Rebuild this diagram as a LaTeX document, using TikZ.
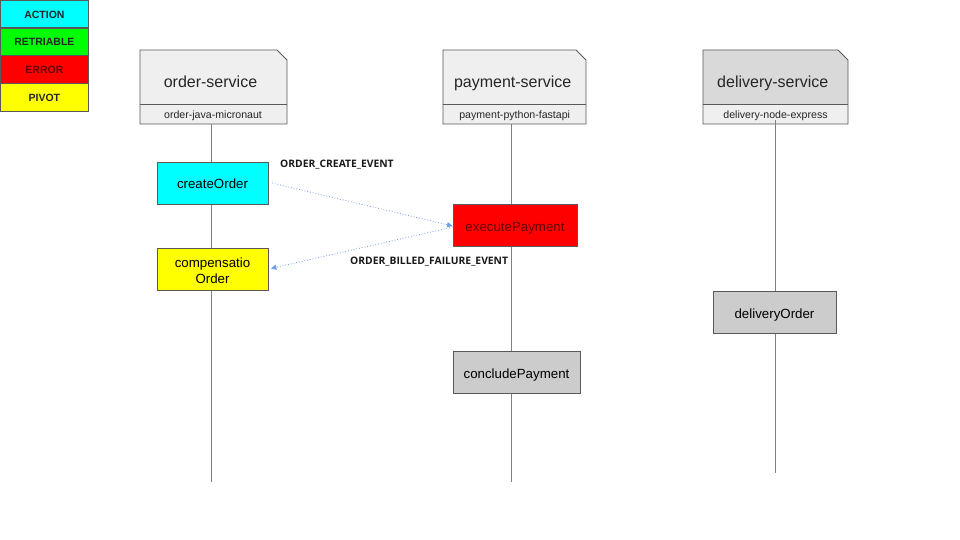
\documentclass[tikz,border=0pt]{standalone}
\usepackage{fontspec}
\setmainfont{Liberation Sans}
\newfontfamily\evfont{Open Sans}
\usetikzlibrary{arrows.meta}
\definecolor{bord}{HTML}{595959}
\definecolor{hdrlight}{HTML}{EFEFEF}
\definecolor{hdrdark}{HTML}{D9D9D9}
\definecolor{actgray}{HTML}{CCCCCC}
\definecolor{msgblue}{HTML}{6D9EEB}
\definecolor{cyanfill}{HTML}{00FFFF}
\definecolor{greenfill}{HTML}{00FF00}
\definecolor{redfill}{HTML}{FF0000}
\definecolor{yellowfill}{HTML}{FFFF00}
\definecolor{darkred}{HTML}{660000}
\tikzset{
  legbox/.style={draw=bord, line width=0.8pt, minimum width=88pt, minimum height=27.5pt, inner sep=0pt, font=\fontsize{10.5}{12}\selectfont\bfseries, text=black!85, text height=8pt, text depth=0pt},
  actbox/.style={draw=bord, line width=0.8pt, minimum height=42pt, inner sep=0pt, font=\fontsize{13.3}{16}\selectfont, align=center, text height=12pt, text depth=0pt},
  compbox/.style={draw=bord, line width=0.8pt, minimum height=42pt, inner sep=0pt},
  comptxt/.style={inner sep=0pt, font=\fontsize{13.3}{16}\selectfont, align=center},
  lifeline/.style={draw=black!50, line width=0.8pt},
  msg/.style={draw=msgblue, line width=0.8pt, dotted, -{Triangle[length=5.5pt,width=5pt]}},
  evlabel/.style={font=\evfont\fontsize{10.3}{12}\selectfont\bfseries, inner sep=0pt, anchor=west, text=black!90},
  subtxt/.style={font=\fontsize{10.6}{12}\selectfont, inner sep=0pt, text=black!85, anchor=base},
  titletxt/.style={font=\fontsize{16}{19}\selectfont, inner sep=0pt, text=black!85, anchor=base}
}
\begin{document}
\begin{tikzpicture}[x=1pt,y=-1pt]
\useasboundingbox[fill=white] (0,0) rectangle (960,540);
% legend
\node[legbox, fill=cyanfill, anchor=north west] (lga) at (0,0) {ACTION};
\node[legbox, fill=greenfill, anchor=north west] (lgr) at (0,27.7) {RETRIABLE};
\node[legbox, fill=redfill, anchor=north west, text=darkred] (lge) at (0,55.4) {ERROR};
\node[legbox, fill=yellowfill, anchor=north west] (lgp) at (0,83.1) {PIVOT};
% headers
\newcommand{\hdr}[3]{%
  \fill[#3] (#1,50) -- (#2-10,50) -- (#2,60) -- (#2,124) -- (#1,124) -- cycle;
  \fill[hdrlight] (#1,104) rectangle (#2,124);
  \draw[bord, line width=0.8pt] (#1,50) -- (#2-10,50) -- (#2,60) -- (#2,124) -- (#1,124) -- cycle;
  \draw[bord, line width=0.8pt] (#1,104) -- (#2,104);
}
\hdr{140}{287}{hdrlight}
\hdr{443}{586}{hdrlight}
\hdr{703}{848}{hdrdark}
\node[titletxt] (t1) at (210.5,87.3) {order-service};
\node[subtxt] (s1) at (213,118.3) {order-java-micronaut};
\node[titletxt] (t2) at (512.7,87.3) {payment-service};
\node[subtxt] (s2) at (514.7,118.3) {payment-python-fastapi};
\node[titletxt] (t3) at (772.8,87.3) {delivery-service};
\node[subtxt] (s3) at (775.5,118.3) {delivery-node-express};
% lifeline ends
\coordinate (o0) at (211,124);
\coordinate (o1) at (211,482);
\coordinate (p0) at (511,124);
\coordinate (p1) at (511,482);
\coordinate (d0) at (775,120);
\coordinate (d1) at (775,473);
\draw[lifeline] (o0) -- (o1);
\draw[lifeline] (p0) -- (p1);
\draw[lifeline] (d0) -- (d1);
% activities
\node[actbox, fill=cyanfill, minimum width=111pt] (create) at (212.5,183) {createOrder};
\node[compbox, fill=yellowfill, minimum width=111pt] (comp) at (212.5,269.5) {};
\node[comptxt] (comptext) at ([yshift=-1pt]comp.center) {compensatio\\Order};
\node[actbox, fill=redfill, minimum width=124pt, text=darkred] (exec) at (515,225) {executePayment};
\node[actbox, fill=actgray, minimum width=127pt] (concl) at (516.5,372) {concludePayment};
\node[actbox, fill=actgray, minimum width=123pt] (deliv) at (774.5,312) {deliveryOrder};
% messages
\draw[msg] ([xshift=3.5pt]create.east) -- ([yshift=-1pt]exec.west);
\draw[msg] ([yshift=-2pt]exec.west) -- ([xshift=2.5pt,yshift=1pt]comp.east);
\node[evlabel] (ev1) at (280,164.5) {ORDER\_CREATE\_EVENT};
\node[evlabel] (ev2) at (350,262) {ORDER\_BILLED\_FAILURE\_EVENT};
\end{tikzpicture}
\end{document}
